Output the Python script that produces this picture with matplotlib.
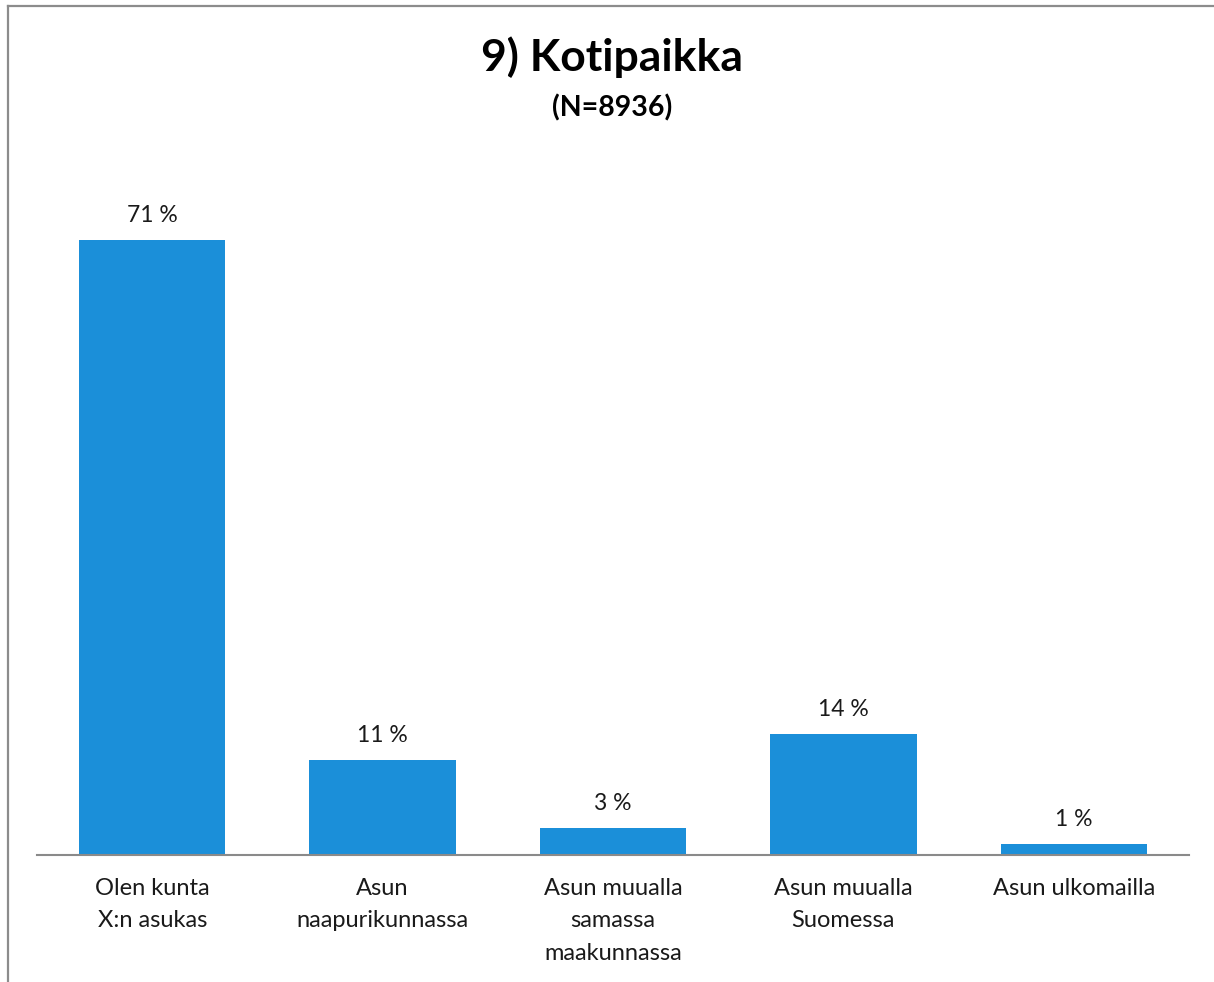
import matplotlib.pyplot as plt
from matplotlib.lines import Line2D

plt.rcParams['font.family'] = ['Lato', 'DejaVu Sans']

categories = ['Olen kunta\nX:n asukas', 'Asun\nnaapurikunnassa',
              'Asun muualla\nsamassa\nmaakunnassa', 'Asun muualla\nSuomessa',
              'Asun ulkomailla']
values = [71.0, 11.0, 3.1, 14.0, 1.3]
labels = ['71 %', '11 %', '3 %', '14 %', '1 %']

fig = plt.figure(figsize=(12.14, 9.82), dpi=100)
ax = fig.add_axes([0.0305, 0.1293, 0.9489, 0.7057])

x = range(len(categories))
bars = ax.bar(x, values, width=0.635, color='#1b8fd9')
for b, lab in zip(bars, labels):
    ax.annotate(lab, (b.get_x() + b.get_width() / 2, b.get_height()),
                xytext=(0, 10), textcoords='offset points',
                ha='center', va='bottom', fontsize=16.5, color='#1a1a1a')

ax.set_xlim(-0.5, 4.5)
ax.set_ylim(0, 80)
ax.set_xticks(list(x))
ax.set_xticklabels(categories, fontsize=17, color='#1a1a1a', linespacing=1.67)
ax.tick_params(axis='x', length=0, pad=16.5)
ax.set_yticks([])
for s in ['top', 'right', 'left']:
    ax.spines[s].set_visible(False)
ax.spines['bottom'].set_color('#8a8a8a')
ax.spines['bottom'].set_linewidth(1.5)

fig.text(0.504, 0.942, '9) Kotipaikka', ha='center', va='center',
         fontsize=32, fontweight='bold')
fig.text(0.504, 0.890, '(N=8936)', ha='center', va='center',
         fontsize=20.5, fontweight='bold')

# outer frame (top and left edges visible)
fig.add_artist(Line2D([8 / 1214, 1.0], [1 - 5.5 / 982, 1 - 5.5 / 982],
                      transform=fig.transFigure, color='#8c8c8c', lw=1.6))
fig.add_artist(Line2D([8 / 1214, 8 / 1214], [0, 1 - 5.5 / 982],
                      transform=fig.transFigure, color='#8c8c8c', lw=1.6))

fig.savefig('out.png', dpi=100)
